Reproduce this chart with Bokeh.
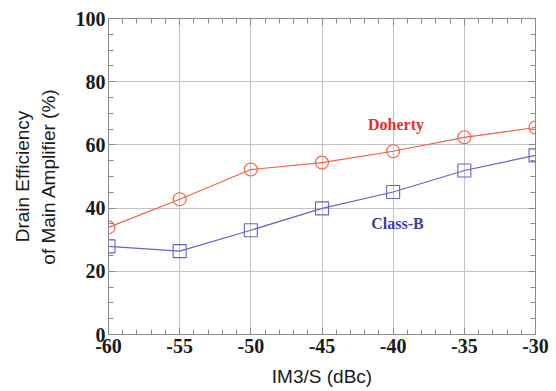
from bokeh.plotting import figure
from bokeh.models import LinearAxis, Range1d, FixedTicker, Label
from bokeh.embed import file_html
from bokeh.resources import INLINE

im3 = [-60, -55, -50, -45, -40, -35, -30]
doherty = [33.9, 42.8, 52.2, 54.4, 58.0, 62.4, 65.5]
class_b = [27.9, 26.4, 33.0, 39.9, 45.1, 51.9, 56.7]
x_ticks = [-60, -55, -50, -45, -40, -35, -30]
x_tick_labels = ["-60", "-55", "-50", "-45", "-40", "-35", "-30"]
y_ticks = [0, 20, 40, 60, 80, 100]
y_tick_labels = ["0", "20", "40", "60", "80", "100"]
x_minor = list(range(-60, -29))
y_minor = list(range(0, 101, 5))

RED = "#F0603F"
BLUE = "#6464C8"
SERIF = "Liberation Serif"
SANS = "Liberation Sans"

p = figure(width=556, height=391, output_backend="svg", toolbar_location=None,
           x_range=Range1d(-60, -30), y_range=Range1d(0, 100),
           x_axis_location=None, y_axis_location=None,
           min_border_left=108, min_border_right=21, min_border_top=18, min_border_bottom=57)
p.outline_line_color = "#8a8a8a"
p.outline_line_width = 1
p.background_fill_color = "white"
p.border_fill_color = "white"

def style_axis(ax, ticks, minor, labels):
    ax.ticker = FixedTicker(ticks=ticks, minor_ticks=minor)
    ax.axis_line_color = None
    ax.major_tick_in = 7
    ax.major_tick_out = 0
    ax.minor_tick_in = 5
    ax.minor_tick_out = 0
    ax.major_tick_line_color = "#8a8a8a"
    ax.minor_tick_line_color = "#8a8a8a"
    if labels is not None:
        ax.major_label_overrides = {t: s for t, s in zip(ticks, labels)}
        ax.major_label_text_font = SERIF
        ax.major_label_text_font_style = "bold"
        ax.major_label_text_font_size = "20px"
        ax.major_label_text_color = "#1a1a1a"
    else:
        ax.major_label_overrides = {t: "" for t in ticks}
        ax.major_label_standoff = 0

xb = LinearAxis(axis_label="IM3/S (dBc)")
style_axis(xb, x_ticks, x_minor, x_tick_labels)
xb.major_label_standoff = 4
xb.axis_label_text_font = SANS
xb.axis_label_text_font_style = "normal"
xb.axis_label_text_font_size = "19px"
xb.axis_label_text_color = "#1a1a1a"
xb.axis_label_standoff = 10
p.add_layout(xb, "below")

yl = LinearAxis(axis_label="Drain Efficiency\nof Main Amplifier (%)")
style_axis(yl, y_ticks, y_minor, y_tick_labels)
yl.major_label_standoff = 3
yl.axis_label_text_font = SANS
yl.axis_label_text_font_style = "normal"
yl.axis_label_text_font_size = "19px"
yl.axis_label_text_color = "#1a1a1a"
yl.axis_label_standoff = 14
p.add_layout(yl, "left")

xt = LinearAxis()
style_axis(xt, x_ticks, x_minor, None)
p.add_layout(xt, "above")
yr = LinearAxis()
style_axis(yr, y_ticks, y_minor, None)
p.add_layout(yr, "right")

p.xgrid.ticker = FixedTicker(ticks=x_ticks)
p.ygrid.ticker = FixedTicker(ticks=y_ticks)
p.xgrid.grid_line_color = "#c4c4c4"
p.ygrid.grid_line_color = "#c4c4c4"
p.xgrid.grid_line_width = 1
p.ygrid.grid_line_width = 1

p.line(im3, doherty, line_color=RED, line_width=1.2)
p.scatter(im3, doherty, marker="circle", size=13, line_color=RED, fill_alpha=0, line_width=1.1)
p.line(im3, class_b, line_color=BLUE, line_width=1.2)
p.scatter(im3, class_b, marker="square", size=13, line_color=BLUE, fill_alpha=0, line_width=1.1)

doherty_label_pos = (-39.8, 66.5)
classb_label_pos = (-39.7, 35.2)
p.add_layout(Label(x=doherty_label_pos[0], y=doherty_label_pos[1], text="Doherty",
                   text_font=SERIF, text_font_style="bold", text_font_size="16px",
                   text_color="#E8302A", text_align="center", text_baseline="middle"))
p.add_layout(Label(x=classb_label_pos[0], y=classb_label_pos[1], text="Class-B",
                   text_font=SERIF, text_font_style="bold", text_font_size="16px",
                   text_color="#3A3E9E", text_align="center", text_baseline="middle"))

open("out.html", "w").write(file_html(p, INLINE))
